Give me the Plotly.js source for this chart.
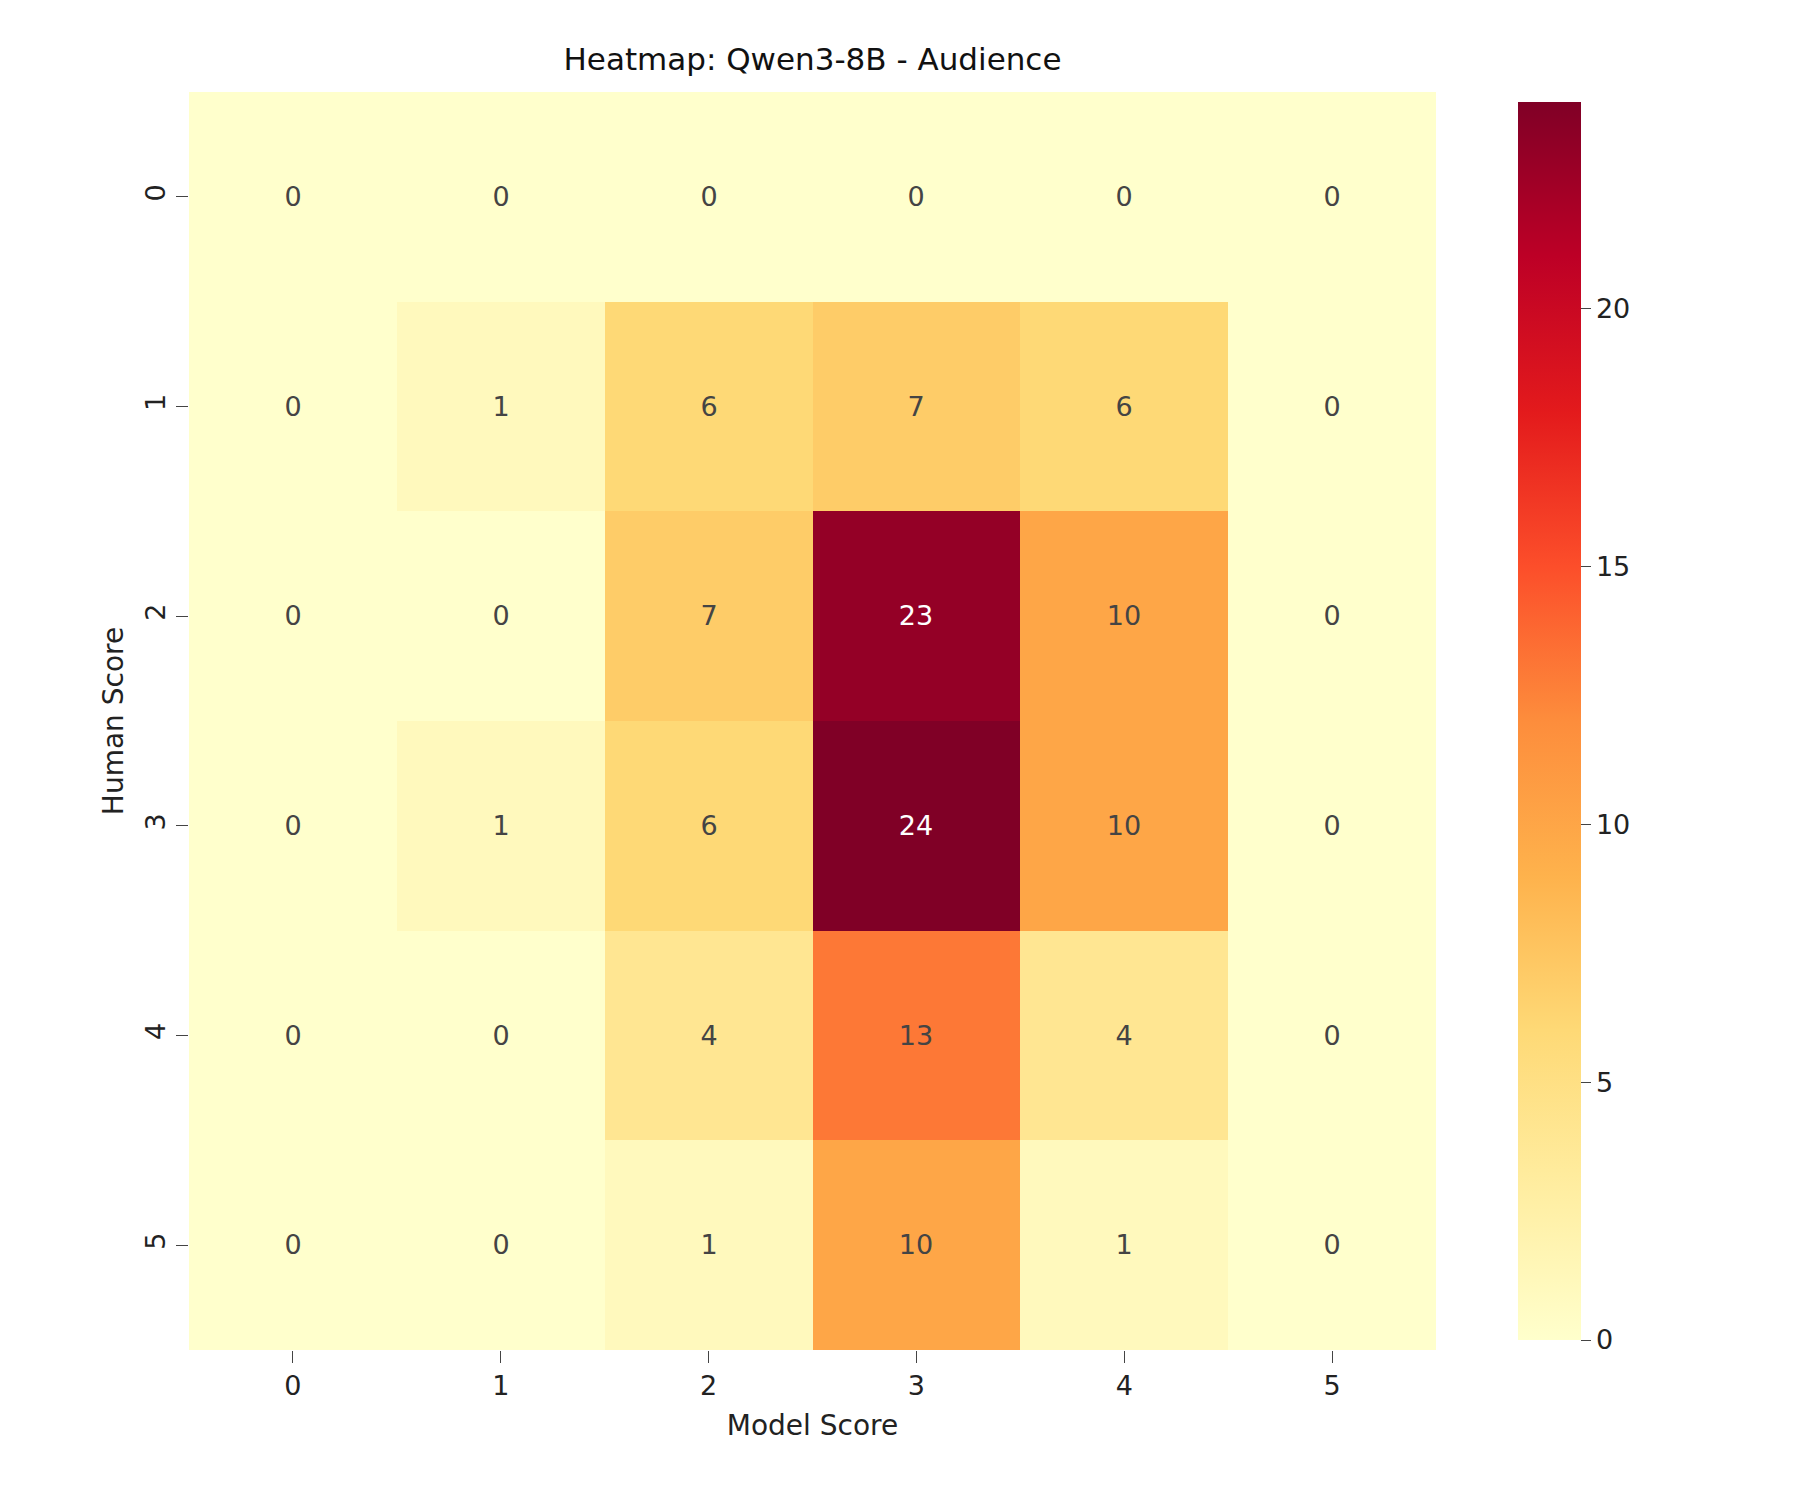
<!DOCTYPE html>
<html>
<head>
<script src="https://cdn.plot.ly/plotly-3.0.1.min.js"></script>
<style>body{margin:0;background:#fff}</style>
</head>
<body>
<div id="chart" style="width:1800px;height:1500px"></div>
<script>
// model score (columns) and human score (rows)
var modelScores = ["0", "1", "2", "3", "4", "5"];
var humanScores = ["0", "1", "2", "3", "4", "5"];
var row0 = [0, 0, 0, 0, 0, 0];
var row1 = [0, 1, 6, 7, 6, 0];
var row2 = [0, 0, 7, 23, 10, 0];
var row3 = [0, 1, 6, 24, 10, 0];
var row4 = [0, 0, 4, 13, 4, 0];
var row5 = [0, 0, 1, 10, 1, 0];

var counts = [row0, row1, row2, row3, row4, row5];

var data = [{
    type: "heatmap",
    x: modelScores,
    y: humanScores,
    z: counts,
    zmin: 0,
    zmax: 24,
    colorscale: "YlOrRd",
    reversescale: true,
    texttemplate: "%{z}",
    textfont: { size: 27, family: "DejaVu Sans" },
    colorbar: {
        x: 1.058, xanchor: "left", y: 0.5, len: 1, thickness: 63,
        outlinewidth: 0, ticks: "outside", ticklen: 10,
        tickvals: [0, 5, 10, 15, 20],
        tickfont: { size: 27, family: "DejaVu Sans", color: "#222" }
    }
}];

var layout = {
    width: 1800, height: 1500,
    margin: { l: 189, r: 364, t: 92, b: 150 },
    paper_bgcolor: "white",
    plot_bgcolor: "white",
    font: { family: "DejaVu Sans", color: "#222" },
    title: { text: "Heatmap: Qwen3-8B - Audience", xref: "paper", x: 0.5, xanchor: "center", y: 0.968,
             font: { size: 31, family: "DejaVu Sans", color: "#111" } },
    xaxis: {
        title: { text: "Model Score", font: { size: 28 }, standoff: 14 },
        ticks: "outside", ticklen: 12, tickfont: { size: 27 }, showgrid: false, zeroline: false
    },
    yaxis: {
        title: { text: "Human Score", font: { size: 28 }, standoff: 8 },
        autorange: "reversed", ticks: "outside", ticklen: 12, tickangle: -90,
        tickfont: { size: 27 }, showgrid: false, zeroline: false
    }
};

Plotly.newPlot("chart", data, layout, { displayModeBar: false });
</script>
</body>
</html>
